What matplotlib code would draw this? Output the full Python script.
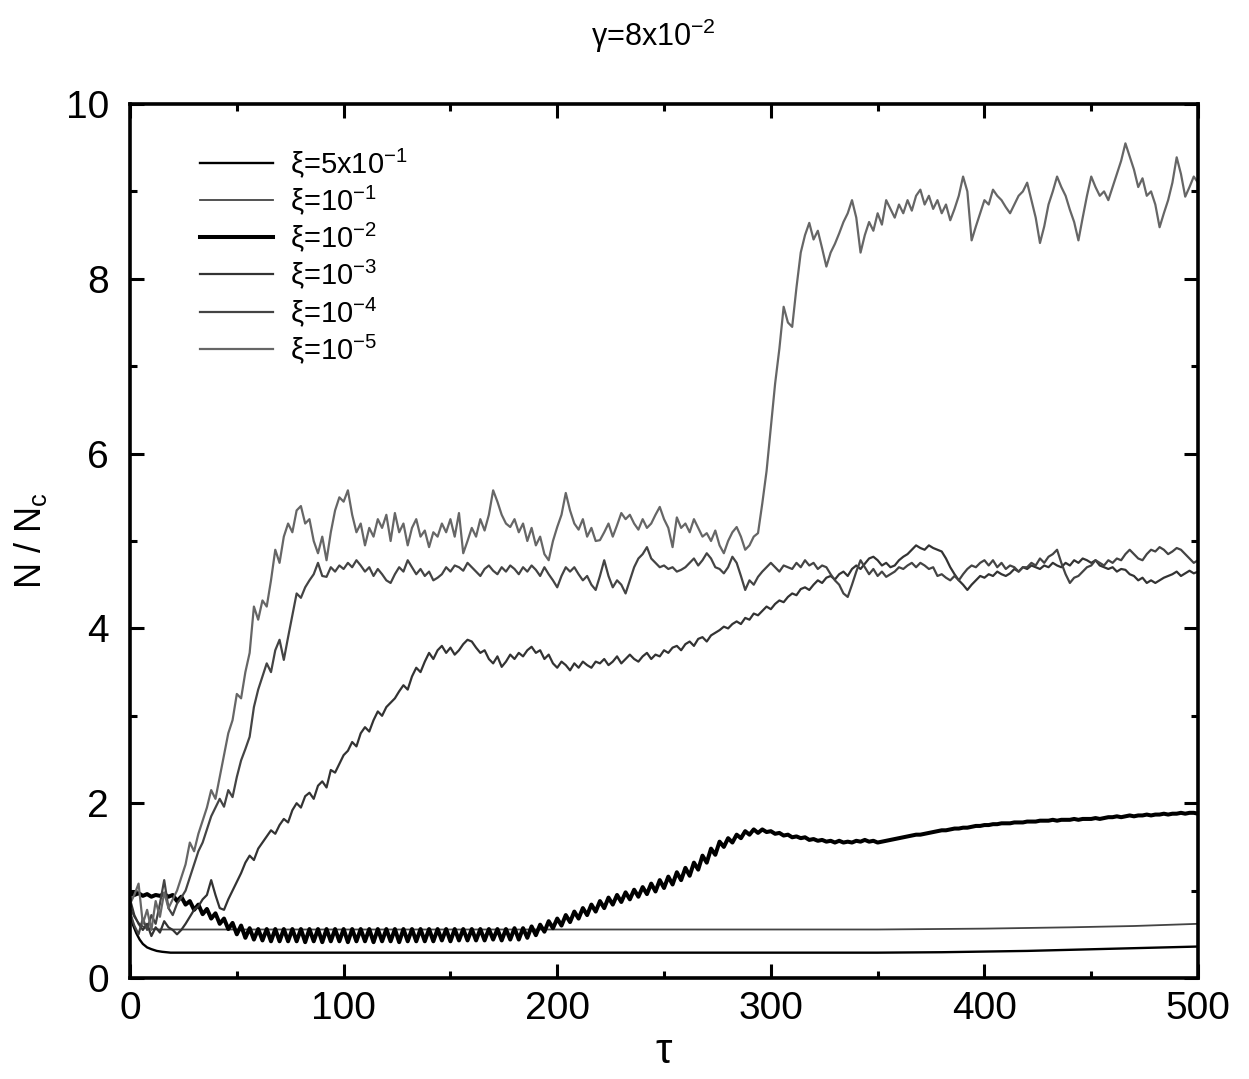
import numpy as np
import matplotlib
matplotlib.use("Agg")
import matplotlib.pyplot as plt
from matplotlib.ticker import MultipleLocator

plt.rcParams['font.family'] = ['Liberation Sans', 'DejaVu Sans']
plt.rcParams['mathtext.fontset'] = 'custom'
plt.rcParams['mathtext.rm'] = 'Liberation Sans'
plt.rcParams['mathtext.it'] = 'Liberation Sans:italic'
plt.rcParams['mathtext.bf'] = 'Liberation Sans:bold'

# ---- data -------------------------------------------------------------
# common time grid for the fluctuating runs (step 2)
tau = np.arange(0, 501, 2)

# xi = 5x10^-1 (smooth)
tau_a = [0, 1.5, 3, 4.5, 6, 8, 10, 12.5, 15, 19, 50, 200, 350, 380, 420, 460, 500]
xi_a = [0.74, 0.60, 0.51, 0.44, 0.39, 0.35, 0.33, 0.31, 0.30, 0.29, 0.29, 0.29,
        0.29, 0.295, 0.31, 0.335, 0.36]

# xi = 10^-1 (smooth)
tau_b = [0, 2, 4, 6, 8, 10, 14, 100, 200, 300, 350, 400, 440, 470, 500]
xi_b = [0.80, 0.70, 0.63, 0.59, 0.57, 0.56, 0.555, 0.555, 0.555, 0.555, 0.555,
        0.565, 0.58, 0.595, 0.62]

# xi = 10^-2
xi_2 = [
    0.97, 0.95, 0.97, 0.94, 0.96, 0.93, 0.95, 0.94, 0.96, 0.93,
    0.95, 0.88, 0.93, 0.84, 0.88, 0.78, 0.84, 0.73, 0.79, 0.68,
    0.74, 0.62, 0.68, 0.56, 0.63, 0.50, 0.60, 0.46, 0.57, 0.44,
    0.56, 0.43, 0.56, 0.42, 0.56, 0.42, 0.56, 0.42, 0.56, 0.42,
    0.56, 0.41, 0.56, 0.42, 0.56, 0.41, 0.56, 0.42, 0.56, 0.42,
    0.56, 0.41, 0.56, 0.42, 0.56, 0.42, 0.56, 0.41, 0.56, 0.42,
    0.56, 0.42, 0.56, 0.41, 0.56, 0.42, 0.56, 0.42, 0.56, 0.42,
    0.56, 0.42, 0.56, 0.43, 0.56, 0.42, 0.56, 0.43, 0.56, 0.43,
    0.56, 0.43, 0.56, 0.43, 0.56, 0.44, 0.56, 0.43, 0.56, 0.44,
    0.57, 0.44, 0.57, 0.46, 0.59, 0.49, 0.61, 0.53, 0.65, 0.57,
    0.68, 0.60, 0.72, 0.64, 0.76, 0.68, 0.80, 0.72, 0.84, 0.76,
    0.88, 0.80, 0.92, 0.84, 0.95, 0.87, 0.98, 0.90, 1.01, 0.93,
    1.04, 0.96, 1.08, 0.99, 1.12, 1.03, 1.16, 1.07, 1.21, 1.12,
    1.26, 1.17, 1.32, 1.24, 1.40, 1.32, 1.48, 1.41, 1.56, 1.50,
    1.60, 1.55, 1.64, 1.60, 1.68, 1.64, 1.70, 1.66, 1.70, 1.67,
    1.68, 1.65, 1.66, 1.63, 1.64, 1.61, 1.62, 1.60, 1.61, 1.58,
    1.59, 1.57, 1.58, 1.56, 1.57, 1.55, 1.57, 1.55, 1.56, 1.55,
    1.57, 1.56, 1.58, 1.56, 1.57, 1.55, 1.56, 1.57, 1.58, 1.59,
    1.60, 1.61, 1.62, 1.63, 1.64, 1.64, 1.65, 1.66, 1.67, 1.68,
    1.69, 1.69, 1.70, 1.71, 1.71, 1.72, 1.72, 1.73, 1.74, 1.74,
    1.75, 1.75, 1.76, 1.76, 1.77, 1.77, 1.77, 1.78, 1.78, 1.78,
    1.79, 1.79, 1.79, 1.80, 1.80, 1.80, 1.81, 1.80, 1.81, 1.81,
    1.81, 1.82, 1.81, 1.82, 1.82, 1.82, 1.83, 1.82, 1.83, 1.84,
    1.84, 1.85, 1.84, 1.85, 1.86, 1.85, 1.86, 1.86, 1.87, 1.86,
    1.87, 1.87, 1.88, 1.87, 1.88, 1.88, 1.89, 1.88, 1.89, 1.89,
    1.88]

# xi = 10^-3
xi_3 = [
    0.90, 0.72, 0.62, 0.55, 0.62, 0.48, 0.58, 0.52, 0.65, 0.58,
    0.55, 0.50, 0.55, 0.62, 0.70, 0.78, 0.82, 0.90, 0.95, 1.12,
    0.95, 0.80, 0.78, 0.90, 1.00, 1.10, 1.20, 1.32, 1.40, 1.35,
    1.48, 1.55, 1.62, 1.69, 1.65, 1.75, 1.82, 1.78, 1.92, 2.00,
    1.95, 2.08, 2.12, 2.05, 2.20, 2.25, 2.18, 2.38, 2.35, 2.45,
    2.55, 2.60, 2.70, 2.65, 2.80, 2.87, 2.82, 2.95, 3.05, 3.00,
    3.10, 3.15, 3.20, 3.28, 3.35, 3.30, 3.45, 3.55, 3.50, 3.62,
    3.72, 3.65, 3.75, 3.80, 3.72, 3.78, 3.70, 3.75, 3.82, 3.87,
    3.85, 3.78, 3.72, 3.75, 3.65, 3.60, 3.68, 3.56, 3.62, 3.70,
    3.65, 3.72, 3.68, 3.75, 3.79, 3.72, 3.75, 3.65, 3.70, 3.60,
    3.55, 3.62, 3.58, 3.52, 3.60, 3.55, 3.62, 3.58, 3.55, 3.62,
    3.60, 3.65, 3.58, 3.62, 3.68, 3.60, 3.65, 3.70, 3.65, 3.62,
    3.68, 3.72, 3.65, 3.70, 3.68, 3.75, 3.72, 3.78, 3.80, 3.75,
    3.82, 3.85, 3.80, 3.88, 3.90, 3.85, 3.92, 3.95, 3.98, 4.02,
    4.00, 4.05, 4.08, 4.05, 4.12, 4.10, 4.17, 4.15, 4.20, 4.25,
    4.22, 4.28, 4.32, 4.30, 4.36, 4.40, 4.38, 4.45, 4.47, 4.44,
    4.50, 4.55, 4.52, 4.58, 4.60, 4.56, 4.62, 4.65, 4.60, 4.68,
    4.72, 4.68, 4.74, 4.80, 4.82, 4.78, 4.72, 4.75, 4.70, 4.72,
    4.78, 4.82, 4.85, 4.90, 4.95, 4.92, 4.90, 4.95, 4.92, 4.90,
    4.88, 4.80, 4.70, 4.62, 4.55, 4.50, 4.44, 4.50, 4.55, 4.60,
    4.58, 4.62, 4.60, 4.65, 4.62, 4.60, 4.63, 4.68, 4.65, 4.70,
    4.68, 4.72, 4.70, 4.68, 4.72, 4.70, 4.75, 4.72, 4.70, 4.75,
    4.72, 4.78, 4.75, 4.80, 4.78, 4.75, 4.78, 4.72, 4.70, 4.68,
    4.70, 4.65, 4.68, 4.67, 4.62, 4.60, 4.55, 4.58, 4.52, 4.55,
    4.52, 4.55, 4.58, 4.60, 4.62, 4.65, 4.60, 4.63, 4.66, 4.63,
    4.65]

# xi = 10^-4
xi_4 = [
    0.75, 0.60, 0.50, 0.68, 0.55, 0.72, 0.62, 0.85, 1.12, 0.80,
    0.72, 0.85, 0.92, 1.00, 1.15, 1.30, 1.45, 1.55, 1.70, 1.85,
    1.95, 2.05, 1.96, 2.15, 2.07, 2.30, 2.49, 2.62, 2.76, 3.10,
    3.30, 3.45, 3.60, 3.50, 3.75, 3.87, 3.64, 3.90, 4.15, 4.40,
    4.35, 4.47, 4.55, 4.62, 4.75, 4.60, 4.59, 4.70, 4.65, 4.72,
    4.68, 4.75, 4.70, 4.78, 4.72, 4.65, 4.70, 4.60, 4.68, 4.62,
    4.55, 4.52, 4.62, 4.70, 4.65, 4.78, 4.70, 4.62, 4.68, 4.60,
    4.65, 4.55, 4.58, 4.62, 4.70, 4.65, 4.72, 4.70, 4.66, 4.75,
    4.70, 4.65, 4.60, 4.68, 4.72, 4.66, 4.62, 4.70, 4.65, 4.72,
    4.68, 4.62, 4.70, 4.65, 4.72, 4.67, 4.60, 4.70, 4.62, 4.55,
    4.47, 4.60, 4.70, 4.65, 4.70, 4.62, 4.55, 4.60, 4.50, 4.44,
    4.60, 4.78, 4.60, 4.47, 4.55, 4.50, 4.40, 4.55, 4.70, 4.80,
    4.85, 4.93, 4.80, 4.75, 4.70, 4.72, 4.68, 4.70, 4.65, 4.67,
    4.70, 4.75, 4.80, 4.72, 4.78, 4.86, 4.80, 4.70, 4.68, 4.63,
    4.70, 4.82, 4.75, 4.60, 4.44, 4.55, 4.50, 4.59, 4.65, 4.70,
    4.75, 4.70, 4.65, 4.72, 4.70, 4.68, 4.75, 4.70, 4.78, 4.72,
    4.75, 4.68, 4.72, 4.70, 4.62, 4.55, 4.50, 4.40, 4.36, 4.50,
    4.65, 4.78, 4.70, 4.62, 4.68, 4.60, 4.65, 4.59, 4.62, 4.65,
    4.70, 4.68, 4.72, 4.75, 4.70, 4.75, 4.72, 4.68, 4.70, 4.60,
    4.62, 4.58, 4.55, 4.60, 4.55, 4.62, 4.68, 4.72, 4.70, 4.75,
    4.78, 4.72, 4.78, 4.70, 4.75, 4.68, 4.72, 4.70, 4.65, 4.70,
    4.70, 4.75, 4.72, 4.80, 4.75, 4.82, 4.85, 4.90, 4.75, 4.62,
    4.52, 4.58, 4.60, 4.65, 4.70, 4.72, 4.78, 4.75, 4.72, 4.78,
    4.75, 4.80, 4.78, 4.85, 4.90, 4.85, 4.80, 4.78, 4.85, 4.90,
    4.88, 4.93, 4.90, 4.85, 4.88, 4.92, 4.90, 4.85, 4.80, 4.75,
    4.78]

# xi = 10^-5
xi_5 = [
    0.85, 0.95, 1.08, 0.62, 0.78, 0.55, 0.88, 0.70, 0.98, 0.80,
    0.90, 1.00, 1.15, 1.30, 1.55, 1.45, 1.65, 1.80, 1.95, 2.15,
    2.05, 2.30, 2.55, 2.80, 2.95, 3.25, 3.20, 3.50, 3.72, 4.25,
    4.10, 4.32, 4.25, 4.55, 4.90, 4.75, 5.05, 5.20, 5.10, 5.35,
    5.40, 5.20, 5.25, 5.00, 4.86, 5.05, 4.78, 5.10, 5.35, 5.50,
    5.45, 5.58, 5.30, 5.10, 5.20, 4.95, 5.15, 5.05, 5.25, 5.15,
    5.30, 5.00, 5.32, 5.10, 5.20, 4.95, 5.15, 5.25, 5.05, 5.12,
    4.93, 5.10, 5.05, 5.20, 5.10, 5.25, 5.05, 5.32, 4.86, 5.00,
    5.15, 5.05, 5.25, 5.12, 5.30, 5.58, 5.45, 5.30, 5.20, 5.16,
    5.25, 5.10, 5.20, 5.00, 5.15, 4.95, 5.05, 4.85, 4.78, 5.00,
    5.16, 5.30, 5.55, 5.35, 5.20, 5.13, 5.25, 5.05, 5.15, 5.00,
    5.01, 5.10, 5.20, 5.05, 5.18, 5.32, 5.25, 5.30, 5.20, 5.13,
    5.25, 5.15, 5.20, 5.30, 5.39, 5.25, 5.15, 4.93, 5.27, 5.15,
    5.20, 5.10, 5.25, 5.15, 5.05, 5.09, 5.00, 5.12, 4.95, 4.86,
    5.00, 5.10, 5.16, 5.05, 4.90, 4.95, 5.05, 5.09, 5.43, 5.80,
    6.30, 6.80, 7.20, 7.68, 7.50, 7.45, 7.90, 8.30, 8.50, 8.64,
    8.45, 8.55, 8.35, 8.14, 8.30, 8.40, 8.52, 8.65, 8.75, 8.90,
    8.70, 8.30, 8.50, 8.65, 8.55, 8.75, 8.62, 8.90, 8.80, 8.70,
    8.85, 8.75, 8.90, 8.78, 8.95, 9.02, 8.85, 8.95, 8.80, 8.90,
    8.75, 8.85, 8.67, 8.80, 8.95, 9.17, 9.00, 8.44, 8.60, 8.75,
    8.90, 8.85, 9.02, 8.95, 8.90, 8.82, 8.75, 8.85, 8.95, 9.00,
    9.10, 8.90, 8.70, 8.41, 8.60, 8.85, 9.00, 9.17, 9.05, 8.95,
    8.79, 8.65, 8.44, 8.70, 8.95, 9.17, 9.05, 8.95, 9.00, 8.90,
    9.05, 9.20, 9.35, 9.55, 9.40, 9.25, 9.05, 9.15, 8.95, 9.00,
    8.85, 8.59, 8.75, 8.90, 9.10, 9.39, 9.20, 8.94, 9.05, 9.17,
    9.10]

labels = [r'ξ=5x10$^{-1}$', r'ξ=10$^{-1}$', r'ξ=10$^{-2}$',
          r'ξ=10$^{-3}$', r'ξ=10$^{-4}$', r'ξ=10$^{-5}$']

# ---- figure -------------------------------------------------------------
fig = plt.figure(figsize=(12.49, 10.79), dpi=100)
ax = fig.add_axes([0.1041, 0.0936, 0.8551, 0.81])

ax.plot(tau_a, xi_a, color='black', lw=1.7, label=labels[0])
ax.plot(tau_b, xi_b, color='#444444', lw=1.3, label=labels[1])
ax.plot(tau, xi_2, color='black', lw=2.9, label=labels[2])
ax.plot(tau, xi_3, color='#333333', lw=1.6, label=labels[3])
ax.plot(tau, xi_4, color='#444444', lw=1.6, label=labels[4])
ax.plot(tau, xi_5, color='#666666', lw=1.6, label=labels[5])

ax.set_xlim(0, 500)
ax.set_ylim(0, 10)
ax.xaxis.set_major_locator(MultipleLocator(100))
ax.xaxis.set_minor_locator(MultipleLocator(50))
ax.yaxis.set_major_locator(MultipleLocator(2))
ax.yaxis.set_minor_locator(MultipleLocator(1))
ax.tick_params(which='both', direction='in', top=True, right=True, width=2.2)
ax.tick_params(which='major', length=10)
ax.tick_params(which='minor', length=5)
ax.tick_params(axis='x', which='major', labelsize=28, pad=9)
ax.tick_params(axis='y', which='major', labelsize=28, pad=15)
for s in ax.spines.values():
    s.set_linewidth(2.6)

ax.set_xlabel('τ', fontsize=30, labelpad=4)
ax.set_ylabel(r'N / N$_\mathrm{c}$', fontsize=26, labelpad=12)

fig.text(653 / 1249, 1 - 36 / 1079, r'γ=8x10$^{-2}$', fontsize=22,
         ha='center', va='center')

ax.legend(loc='upper left', bbox_to_anchor=(0.0655, 0.952), frameon=False,
          fontsize=21, handlelength=2.5, handletextpad=0.6,
          labelspacing=0.12, borderpad=0, borderaxespad=0)

fig.savefig('out.png', dpi=100, facecolor='white')
